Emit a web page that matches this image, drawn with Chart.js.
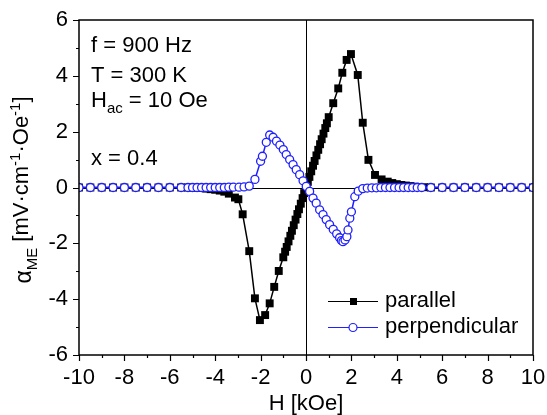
<!DOCTYPE html>
<html>
<head>
<meta charset="utf-8">
<script src="https://cdn.jsdelivr.net/npm/chart.js@4.4.0/dist/chart.umd.min.js"></script>
<style>
  html, body { margin: 0; padding: 0; background: #fff; }
  canvas { display: block; }
</style>
</head>
<body>
<canvas id="me-chart" width="547" height="415"></canvas>
<script>
// H field in kOe, alpha_ME in mV/(cm*Oe)
const parallelH = [
  -10, -9.5, -9, -8.5, -8, -7.5, -7, -6.5, -6, -5.5,
  -5.2, -5.0, -4.8, -4.6, -4.4, -4.2, -4.0, -3.8, -3.6, -3.4,
  -3.13, -2.98, -2.79, -2.5, -2.25, -2.03, -1.8, -1.6, -1.4, -1.2,
  -1.0, -0.92, -0.85, -0.77, -0.69, -0.62, -0.54, -0.46, -0.38, -0.31, -0.23, -0.15, -0.08,
  0, 0.08, 0.15, 0.23, 0.31, 0.38, 0.46, 0.54, 0.62, 0.69, 0.77, 0.85, 0.92,
  1.0, 1.2, 1.42, 1.6, 1.79, 1.98, 2.28, 2.5, 2.75, 3.04,
  3.33, 3.6, 3.8, 4.0, 4.2, 4.4, 4.6, 4.8, 5.0, 5.2,
  5.5, 6, 6.5, 7, 7.5, 8, 8.5, 9, 9.5, 10
]
const parallelAlpha = [
  0, 0, 0, 0, 0, 0, 0, 0, 0, 0,
  0, -0.01, -0.01, -0.02, -0.04, -0.06, -0.08, -0.11, -0.15, -0.22,
  -0.36, -0.42, -0.96, -2.28, -3.97, -4.75, -4.57, -4.15, -3.56, -2.99,
  -2.5, -2.3, -2.13, -1.93, -1.73, -1.55, -1.35, -1.15, -0.95, -0.78, -0.58, -0.38, -0.2,
  0.01, 0.2, 0.38, 0.58, 0.78, 0.95, 1.15, 1.35, 1.55, 1.73, 1.93, 2.13, 2.3,
  2.52, 3.02, 3.55, 4.11, 4.57, 4.78, 4.03, 2.32, 0.99, 0.45,
  0.29, 0.21, 0.16, 0.12, 0.09, 0.07, 0.05, 0.03, 0.02, 0.01,
  0, 0, 0, 0, 0, 0, 0, 0, 0, 0
]

const perpH = [
  -10, -9.5, -9, -8.5, -8, -7.5, -7, -6.5, -6, -5.5,
  -5.2, -5.0, -4.8, -4.6, -4.4, -4.2, -4.0, -3.8, -3.6, -3.4,
  -3.2, -2.95, -2.73, -2.5, -2.25, -2.0, -1.92, -1.75, -1.6, -1.45,
  -1.3, -1.15, -1.0, -0.87, -0.72, -0.57, -0.43, -0.28, -0.13, 0.01,
  0.16, 0.31, 0.45, 0.6, 0.75, 0.89, 1.04, 1.2, 1.35, 1.48,
  1.56, 1.63, 1.72, 1.8, 1.85, 1.93, 2.0, 2.15, 2.3, 2.5,
  2.7, 2.9, 3.1, 3.3, 3.5, 3.7, 3.9, 4.1, 4.3, 4.5,
  4.7, 4.9, 5.1, 5.5, 6, 6.5, 7, 7.5, 8, 8.5,
  9, 9.5, 10
]
const perpAlpha = [
  0, 0, 0, 0, 0, 0, 0, 0, 0, 0,
  0, 0, 0, 0, 0, 0, 0, 0, 0, 0.01,
  0.01, 0.01, 0.02, 0.05, 0.29, 0.94, 1.12, 1.62, 1.88, 1.8,
  1.66, 1.52, 1.36, 1.18, 1.0, 0.82, 0.64, 0.46, 0.24, 0.04,
  -0.14, -0.38, -0.56, -0.8, -0.97, -1.15, -1.33, -1.5, -1.66, -1.8,
  -1.9, -1.94, -1.88, -1.76, -1.52, -1.1, -0.87, -0.33, -0.13, -0.04,
  -0.02, -0.01, -0.01, 0, 0, 0, 0, 0, 0, 0,
  0, 0, 0, 0, 0, 0, 0, 0, 0, 0,
  0, 0, 0
]

const xTicks = [-10, -8, -6, -4, -2, 0, 2, 4, 6, 8, 10]
const yTicks = [-6, -4, -2, 0, 2, 4, 6]

const notes = ['f = 900 Hz', 'T = 300 K', 'H|ac| = 10 Oe', 'x = 0.4']

const FONT = '"Liberation Sans", Arial, sans-serif'
const BLUE = '#1f1fff'

const toPoints = (xs, ys) => xs.map((x, i) => ({ x: x, y: ys[i] }))

// draws runs of text; parts are [text, size, baseline shift]
const drawRuns = (ctx, x, y, runs) => {
  let cx = x
  runs.forEach(([txt, size, dy]) => {
    ctx.font = size + 'px ' + FONT
    ctx.fillText(txt, cx, y + dy)
    cx += ctx.measureText(txt).width
  })
  return cx
}
const runsWidth = (ctx, runs) => runs.reduce((w, [txt, size]) => {
  ctx.font = size + 'px ' + FONT
  return w + ctx.measureText(txt).width
}, 0)

const decorations = {
  id: 'decorations',
  beforeDatasetsDraw (chart) {
    const { ctx, chartArea: a, scales: { x, y } } = chart
    const x0 = Math.round(x.getPixelForValue(0)) + 0.5
    const y0 = Math.round(y.getPixelForValue(0)) + 0.5
    ctx.save()
    ctx.strokeStyle = '#000'
    ctx.lineWidth = 1
    ctx.beginPath()
    ctx.moveTo(a.left, y0)
    ctx.lineTo(a.right, y0)
    ctx.moveTo(x0, a.top)
    ctx.lineTo(x0, a.bottom)
    ctx.stroke()
    ctx.restore()
  },
  afterDraw (chart) {
    const { ctx, chartArea: a, scales: { x, y } } = chart
    ctx.save()

    // frame
    ctx.strokeStyle = '#000'
    ctx.lineWidth = 1.5
    ctx.strokeRect(a.left, a.top, a.right - a.left, a.bottom - a.top)

    // outward ticks, minor ones halfway between labels
    ctx.lineWidth = 1.2
    ctx.beginPath()
    xTicks.forEach((v, i) => {
      const px = Math.round(x.getPixelForValue(v)) + 0.5
      ctx.moveTo(px, a.bottom)
      ctx.lineTo(px, a.bottom + 6)
      if (i < xTicks.length - 1) {
        const pm = Math.round(x.getPixelForValue((v + xTicks[i + 1]) / 2)) + 0.5
        ctx.moveTo(pm, a.bottom)
        ctx.lineTo(pm, a.bottom + 3)
      }
    })
    yTicks.forEach((v, i) => {
      const py = Math.round(y.getPixelForValue(v)) + 0.5
      ctx.moveTo(a.left, py)
      ctx.lineTo(a.left - 6, py)
      if (i < yTicks.length - 1) {
        const pm = Math.round(y.getPixelForValue((v + yTicks[i + 1]) / 2)) + 0.5
        ctx.moveTo(a.left, pm)
        ctx.lineTo(a.left - 3, pm)
      }
    })
    ctx.stroke()

    ctx.fillStyle = '#000'
    ctx.textBaseline = 'alphabetic'
    ctx.textAlign = 'left'

    // x title
    ctx.font = '22px ' + FONT
    ctx.textAlign = 'center'
    ctx.fillText('H [kOe]', (a.left + a.right) / 2, 410)
    ctx.textAlign = 'left'

    // y title, rotated
    const yRuns = [
      ['\u03b1', 23, 3],
      ['ME', 15, 9],
      [' [mV\u00b7cm', 22, 0],
      ['-1', 15, -8],
      ['\u00b7Oe', 22, 0],
      ['-1', 15, -8],
      [']', 22, 0]
    ]
    const w = runsWidth(ctx, yRuns)
    ctx.save()
    ctx.translate(28, 190)
    ctx.rotate(-Math.PI / 2)
    drawRuns(ctx, -w / 2, 0, yRuns)
    ctx.restore()

    // measurement conditions
    const lines = [52, 82, 107, 165]
    notes.forEach((txt, i) => {
      const parts = txt.split('|')
      const runs = parts.map((p, k) => k % 2 ? [p, 15, 6] : [p, 22, 0])
      drawRuns(ctx, 91, lines[i], runs)
    })

    // legend
    const entries = [
      { label: 'parallel', color: '#000', y: 301 },
      { label: 'perpendicular', color: BLUE, y: 327 }
    ]
    entries.forEach((e, i) => {
      ctx.strokeStyle = e.color
      ctx.lineWidth = 1
      ctx.beginPath()
      ctx.moveTo(328, e.y + 0.5)
      ctx.lineTo(378, e.y + 0.5)
      ctx.stroke()
      if (i === 0) {
        ctx.fillStyle = '#000'
        ctx.fillRect(350, e.y - 3, 7, 7)
      } else {
        ctx.fillStyle = '#fff'
        ctx.lineWidth = 1.2
        ctx.beginPath()
        ctx.arc(353, e.y + 0.5, 4, 0, Math.PI * 2)
        ctx.fill()
        ctx.stroke()
      }
      ctx.fillStyle = '#000'
      ctx.font = '22px ' + FONT
      ctx.fillText(e.label, 385, e.y + 6)
    })

    ctx.restore()
  }
}

const ctx = document.querySelector('#me-chart').getContext('2d')

const chart = new Chart(ctx, {
  type: 'scatter',
  data: {
    datasets: [
      {
        label: 'perpendicular',
        data: toPoints(perpH, perpAlpha),
        showLine: true,
        order: 0,
        borderColor: BLUE,
        borderWidth: 1.5,
        pointStyle: 'circle',
        pointRadius: 4,
        pointBorderWidth: 1.3,
        pointBackgroundColor: '#fff',
        pointBorderColor: BLUE
      },
      {
        label: 'parallel',
        data: toPoints(parallelH, parallelAlpha),
        showLine: true,
        order: 1,
        borderColor: '#000',
        borderWidth: 1.5,
        pointStyle: 'rect',
        pointRadius: 5.6,
        pointBorderWidth: 0,
        pointBackgroundColor: '#000',
        pointBorderColor: '#000'
      }
    ]
  },
  options: {
    responsive: false,
    animation: false,
    devicePixelRatio: 1,
    layout: { padding: { top: 20, right: 14, left: 0, bottom: 0 } },
    plugins: {
      legend: { display: false },
      tooltip: { enabled: false }
    },
    scales: {
      x: {
        type: 'linear',
        min: -10,
        max: 10,
        grid: { display: false, drawTicks: false },
        border: { display: false },
        ticks: {
          stepSize: 2,
          padding: 9.5,
          color: '#000',
          font: { family: FONT, size: 22 }
        },
        afterFit: (scale) => {
          scale.height = 60
          scale.paddingLeft = 0
          scale.paddingRight = 0
        }
      },
      y: {
        type: 'linear',
        min: -6,
        max: 6,
        grid: { display: false, drawTicks: false },
        border: { display: false },
        ticks: {
          stepSize: 2,
          padding: 11,
          color: '#000',
          font: { family: FONT, size: 22 }
        },
        afterFit: (scale) => {
          scale.width = 79
          scale.paddingTop = 0
          scale.paddingBottom = 0
        }
      }
    }
  },
  plugins: [decorations]
})
</script>
</body>
</html>
